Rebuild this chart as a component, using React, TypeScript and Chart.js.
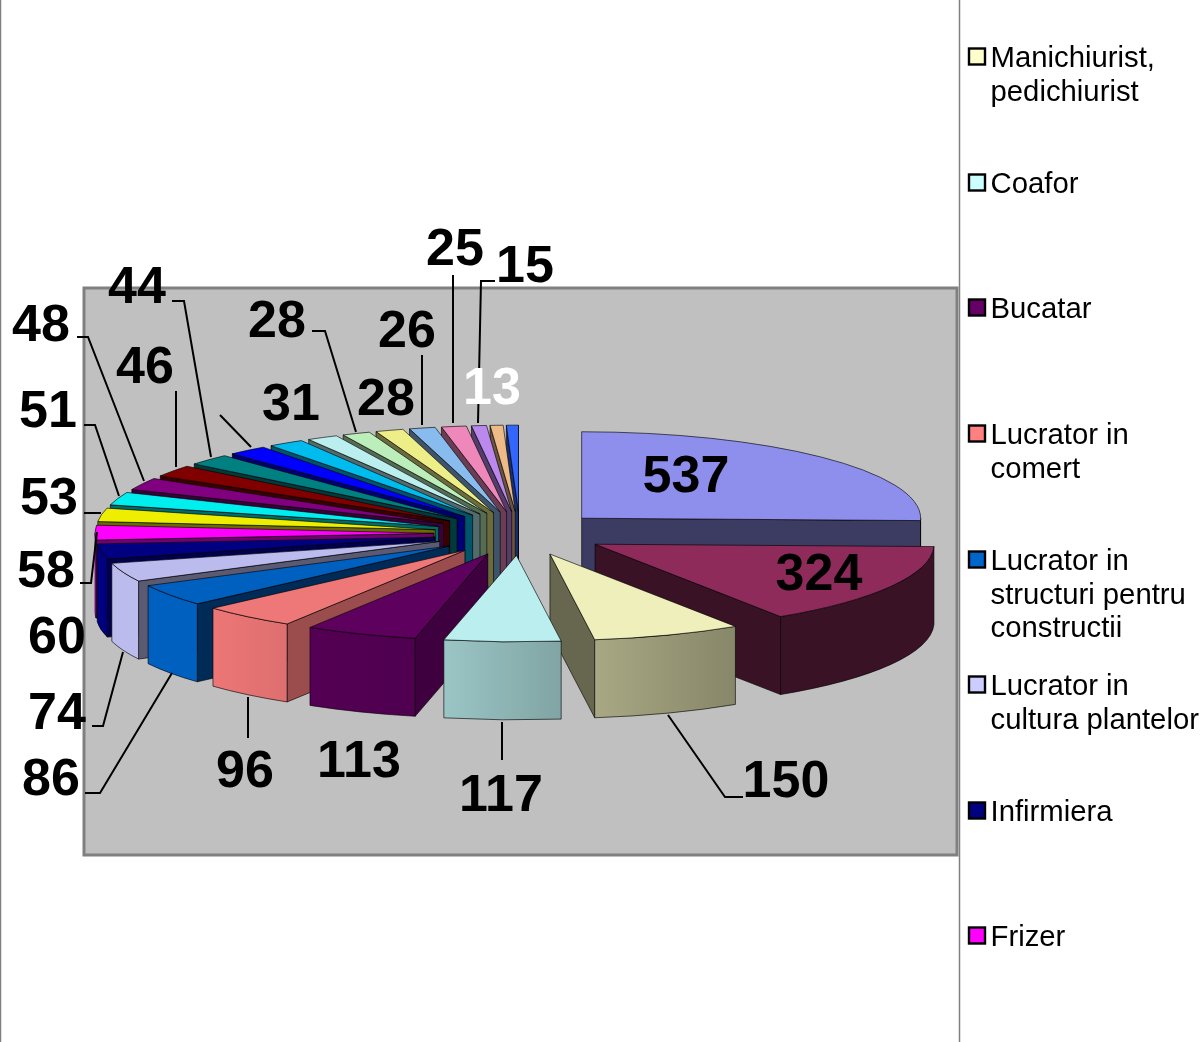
import React, { useEffect, useRef } from "react";
import { Chart, registerables } from "chart.js";

Chart.register(...registerables);

// ---- data ----
const categories = [
  "", "", "Manichiurist, pedichiurist", "Coafor", "Bucatar", "Lucrator in comert",
  "Lucrator in structuri pentru constructii", "Lucrator in cultura plantelor", "Infirmiera", "Frizer",
  "", "", "", "", "", "", "", "", "", "", "", "", "", "", "",
];
const values = [537, 324, 150, 117, 113, 96, 86, 74, 60, 58, 53, 51, 48, 46, 44, 40, 36, 31, 28, 28, 26, 25, 15, 13, 12];
const valueLabels = ["537", "324", "150", "117", "113", "96", "86", "74", "60", "58", "53", "51", "48", "46", "44", "", "", "31", "28", "28", "26", "25", "15", "13", ""];

// ---- styles ----
const topColors = [
  "#8e8eec", "#8e2b5b", "#efefbb", "#bbeeee", "#5e005e", "#ee7777", "#0060c0", "#bbbbee", "#000080",
  "#ff00ff", "#eeee00", "#00eeee", "#800080", "#800000", "#008080", "#0000ff", "#00bbee", "#bbeeee",
  "#bbeebb", "#eeee88", "#88bbee", "#ee88bb", "#bb88ee", "#eebb88", "#3366ff",
];
const sideShade = [0.42, 0.41, 0.43, 0.5, 0.67, 0.65, 0.45, 0.48, 0.6, 0.45, 0.45, 0.45, 0.45, 0.45, 0.45, 0.45, 0.45, 0.45, 0.45, 0.45, 0.45, 0.45, 0.45, 0.45, 0.45];
const legendRows = [
  { lines: ["Manichiurist,", "pedichiurist"], y: 56, color: "#ffffcc" },
  { lines: ["Coafor"], y: 182, color: "#ccffff" },
  { lines: ["Bucatar"], y: 307, color: "#660066" },
  { lines: ["Lucrator in", "comert"], y: 433, color: "#ff8080" },
  { lines: ["Lucrator in", "structuri pentru", "constructii"], y: 559, color: "#0066cc" },
  { lines: ["Lucrator in", "cultura plantelor"], y: 684, color: "#ccccff" },
  { lines: ["Infirmiera"], y: 810, color: "#000080" },
  { lines: ["Frizer"], y: 935, color: "#ff00ff" },
];
const labelSpots: Record<string, [number, number]> = {
  0: [686, 475], 1: [819, 573], 2: [786, 780], 3: [501, 794], 4: [359, 760], 5: [245, 770], 6: [51, 778],
  7: [57, 712], 8: [57, 636], 9: [46, 570], 10: [49, 497], 11: [48, 410], 12: [41, 324], 13: [145, 366],
  14: [137, 286], 17: [291, 403], 18: [277, 320], 19: [386, 398], 20: [407, 330], 21: [455, 248], 22: [525, 265], 23: [492, 387],
};
const leaders: number[][][] = [
  [[743, 797], [725, 797], [668, 715]],
  [[502, 722], [502, 760]],
  [[248, 697], [248, 738]],
  [[85, 793], [100, 793], [172, 673]],
  [[92, 726], [103, 726], [123, 652]],
  [[80, 583], [91, 583], [97, 532]],
  [[84, 513], [101, 513]],
  [[84, 425], [95, 425], [119, 496]],
  [[77, 337], [88, 337], [144, 481]],
  [[176, 391], [176, 467]],
  [[172, 301], [184, 301], [211, 457]],
  [[220, 415], [251, 447]],
  [[312, 331], [325, 331], [356, 432]],
  [[422, 355], [422, 425]],
  [[453, 275], [453, 423]],
  [[495, 281], [481, 281], [478, 423]],
];

const view = { x: 520, y: 533.5, tilt: 0.255, depth: 78, explode: 86, radius: 339 };
const FONT = '"Liberation Sans", Arial, sans-serif';
const TEXT_NUDGE = 3;

function shade(hex: string, f: number) {
  const n = parseInt(hex.slice(1), 16);
  const c = [(n >> 16) & 255, (n >> 8) & 255, n & 255].map((v) => Math.round(Math.min(255, v * f)));
  return `rgb(${c[0]},${c[1]},${c[2]})`;
}

function wallBrightness(mid: number) {
  const deg = (mid * 180) / Math.PI;
  return Math.max(0.41, Math.min(1, 0.41 + ((deg - 29) / 100) * 0.55));
}

const pie3d = {
  id: "pie3d",
  beforeDraw(chart: any) {
    const { ctx, width, height, chartArea: a } = chart;
    ctx.save();
    ctx.fillStyle = "#ffffff";
    ctx.fillRect(0, 0, width, height);
    ctx.fillStyle = "#c0c0c0";
    ctx.fillRect(a.left, a.top, a.width, a.height);
    ctx.strokeStyle = "#808080";
    ctx.lineWidth = 3;
    ctx.strokeRect(a.left, a.top, a.width, a.height);
    ctx.lineWidth = 1.5;
    ctx.beginPath();
    ctx.moveTo(959.5, 0);
    ctx.lineTo(959.5, height);
    ctx.moveTo(0.5, 0);
    ctx.lineTo(0.5, height);
    ctx.stroke();
    ctx.restore();
  },
  beforeDatasetsDraw(chart: any) {
    const { ctx } = chart;
    const arcs: any[] = chart.getDatasetMeta(0).data;
    const order = arcs
      .map((arc, i) => ({ arc, i, mid: (arc.startAngle + arc.endAngle) / 2 }))
      .sort((p, q) => Math.sin(p.mid) - Math.sin(q.mid));
    const { tilt, depth, explode } = view;
    ctx.save();
    ctx.lineWidth = 1;
    ctx.lineJoin = "round";
    ctx.strokeStyle = "rgba(0,0,0,0.62)";
    for (const { arc, i, mid } of order) {
      const a = arc.startAngle;
      const b = arc.endAngle;
      const R = arc.outerRadius;
      const cx = view.x + Math.cos(mid) * explode;
      const cy = view.y + Math.sin(mid) * explode * tilt;
      const col = topColors[i];
      const px = (t: number) => cx + Math.cos(t) * R;
      const py = (t: number) => cy + Math.sin(t) * R * tilt;
      const radial = (t: number) => {
        ctx.beginPath();
        ctx.moveTo(cx, cy);
        ctx.lineTo(px(t), py(t));
        ctx.lineTo(px(t), py(t) + depth);
        ctx.lineTo(cx, cy + depth);
        ctx.closePath();
        ctx.fillStyle = shade(col, sideShade[i]);
        ctx.fill();
        ctx.stroke();
      };
      if (-Math.cos(a) > 0) radial(a);
      if (Math.cos(b) > 0) radial(b);
      const t0 = Math.max(a, 0);
      const t1 = Math.min(b, Math.PI);
      if (t1 > t0) {
        const br = wallBrightness(mid);
        const g = ctx.createLinearGradient(px(t1), 0, px(t0), 0);
        const spread = br <= 0.45 || br >= 0.99 ? 0 : br > 0.85 ? 0.03 : 0.07;
        g.addColorStop(0, shade(col, br + spread));
        g.addColorStop(1, shade(col, br - spread));
        ctx.beginPath();
        ctx.ellipse(cx, cy, R, R * tilt, 0, t0, t1);
        ctx.ellipse(cx, cy + depth, R, R * tilt, 0, t1, t0, true);
        ctx.closePath();
        ctx.fillStyle = g;
        ctx.fill();
        ctx.stroke();
      }
      ctx.save();
      ctx.translate(cx, cy);
      ctx.scale(1, tilt);
      ctx.translate(-arc.x, -arc.y);
      arc.draw(ctx);
      ctx.restore();
      ctx.beginPath();
      ctx.moveTo(cx, cy);
      ctx.ellipse(cx, cy, R, R * tilt, 0, a, b);
      ctx.closePath();
      ctx.stroke();
    }
    ctx.restore();
    return false;
  },
  afterDraw(chart: any) {
    const { ctx } = chart;
    ctx.save();
    ctx.strokeStyle = "#000000";
    ctx.lineWidth = 2;
    for (const line of leaders) {
      ctx.beginPath();
      line.forEach(([x, y], i) => (i ? ctx.lineTo(x, y) : ctx.moveTo(x, y)));
      ctx.stroke();
    }
    ctx.textAlign = "center";
    ctx.textBaseline = "middle";
    ctx.font = `bold 52px ${FONT}`;
    valueLabels.forEach((txt, i) => {
      if (!txt) return;
      const [x, y] = labelSpots[i];
      ctx.fillStyle = i === 23 ? "#ffffff" : "#000000";
      ctx.fillText(txt, x, y + TEXT_NUDGE);
    });
    ctx.textAlign = "left";
    ctx.font = `29.3px ${FONT}`;
    for (const row of legendRows) {
      ctx.fillStyle = row.color;
      ctx.fillRect(969, row.y - 7.5, 16, 16);
      ctx.strokeStyle = "#000000";
      ctx.lineWidth = 2.4;
      ctx.strokeRect(969, row.y - 7.5, 16, 16);
      ctx.fillStyle = "#000000";
      row.lines.forEach((t, i) => ctx.fillText(t, 990.5, row.y + i * 33.7 + TEXT_NUDGE));
    }
    ctx.restore();
  },
};

export default function App() {
  const ref = useRef<HTMLCanvasElement>(null);
  useEffect(() => {
    document.body.style.margin = "0";
    document.body.style.overflow = "hidden";
    const chart = new Chart(ref.current!, {
      type: "pie",
      data: {
        labels: categories,
        datasets: [
          {
            data: values,
            backgroundColor: topColors,
            borderWidth: 0,
            radius: view.radius,
          } as any,
        ],
      },
      options: {
        responsive: false,
        animation: false,
        devicePixelRatio: 1,
        layout: { padding: { left: 84, top: 288, right: 245, bottom: 187 } },
        plugins: { legend: { display: false }, tooltip: { enabled: false } },
        events: [],
      },
      plugins: [pie3d],
    } as any);
    return () => chart.destroy();
  }, []);
  return <canvas ref={ref} width={1202} height={1042} style={{ display: "block" }} />;
}
